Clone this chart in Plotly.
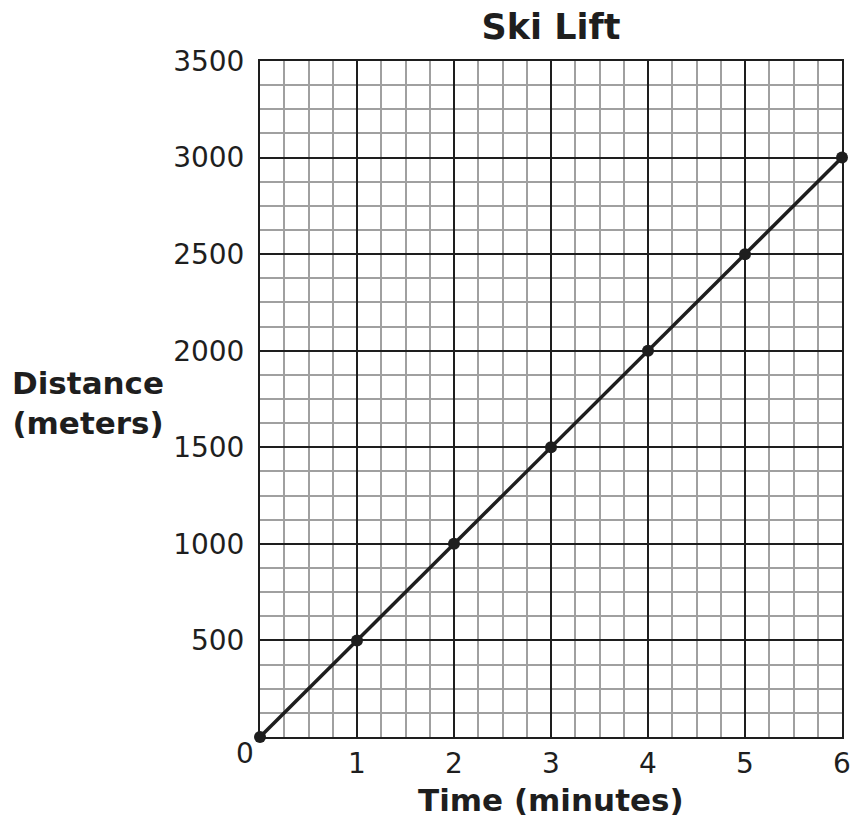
import plotly.graph_objects as go

time_min = [0, 1, 2, 3, 4, 5, 6]
distance_m = [0, 500, 1000, 1500, 2000, 2500, 3000]
x_tick_vals = [1, 2, 3, 4, 5, 6]
x_tick_text = ["1", "2", "3", "4", "5", "6"]
y_tick_vals = [500, 1000, 1500, 2000, 2500, 3000, 3500]
y_tick_text = ["500", "1000", "1500", "2000", "2500", "3000", "3500"]

FONT = "DejaVu Sans"
INK = "#1e1e1e"

fig = go.Figure()
fig.add_trace(go.Scatter(
    x=time_min, y=distance_m, mode="lines+markers",
    line=dict(color=INK, width=3.5),
    marker=dict(color=INK, size=12),
    cliponaxis=False, showlegend=False, hoverinfo="skip",
))

axis_common = dict(
    showgrid=True, gridcolor=INK, gridwidth=2,
    showline=True, linecolor=INK, linewidth=2, mirror=True,
    zeroline=False, ticks="",
    tickfont=dict(family=FONT, size=28, color=INK),
    fixedrange=True,
)

fig.update_xaxes(
    range=[0, 6], tickvals=x_tick_vals, ticktext=x_tick_text,
    minor=dict(dtick=0.25, tick0=0, showgrid=True, gridcolor="#a0a0a0", gridwidth=1.5),
    ticklabelstandoff=0,
    **axis_common,
)
fig.update_yaxes(
    range=[0, 3500], tickvals=y_tick_vals, ticktext=y_tick_text,
    minor=dict(dtick=125, tick0=0, showgrid=True, gridcolor="#a0a0a0", gridwidth=1.5),
    ticklabelstandoff=8,
    **axis_common,
)

fig.update_layout(
    width=853, height=819,
    margin=dict(l=260, r=11, t=61, b=82, autoexpand=False),
    paper_bgcolor="white", plot_bgcolor="white",
    font=dict(family=FONT, color=INK),
    title=dict(text="<b>Ski Lift</b>", x=0.646, xanchor="center", y=0.967, yanchor="middle",
               font=dict(family=FONT, size=35, color=INK)),
    annotations=[
        dict(text="<b>Time (minutes)</b>", xref="paper", yref="paper", x=0.5, y=0,
             xanchor="center", yanchor="middle", yshift=-63, showarrow=False,
             font=dict(family=FONT, size=31, color=INK)),
        dict(text="<b>Distance<br>(meters)</b>", xref="paper", yref="paper", x=0, y=0.5,
             xanchor="center", yanchor="middle", xshift=-172, yshift=-4, showarrow=False,
             align="center", font=dict(family=FONT, size=31, color=INK)),
        dict(text="0", xref="x", yref="y", x=0, y=0, xanchor="center", yanchor="middle",
             xshift=-15, yshift=-16, showarrow=False,
             font=dict(family=FONT, size=28, color=INK)),
    ],
)

fig.write_html(
    "out.html",
    config={"displayModeBar": False},
    post_script="document.body.style.margin='0';document.body.style.padding='0';",
)
